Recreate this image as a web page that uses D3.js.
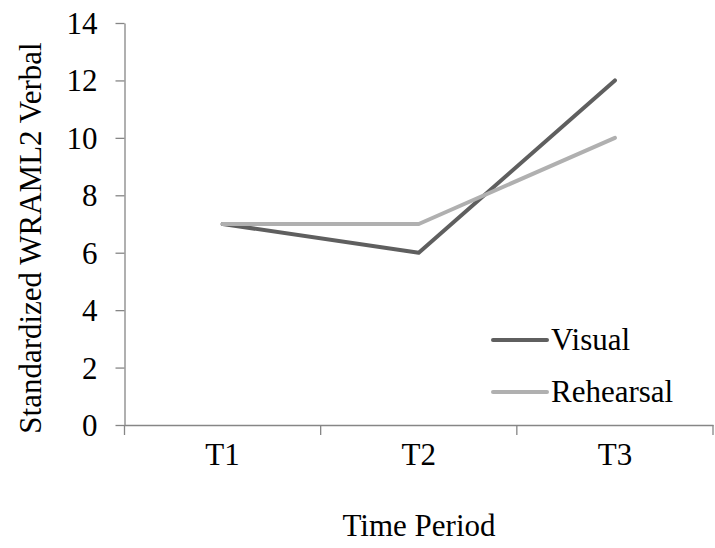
<!DOCTYPE html>
<html>
<head>
<meta charset="utf-8">
<script src="https://cdn.jsdelivr.net/npm/d3@7"></script>
</head>
<body style="margin:0">
<svg id="chart" width="715" height="548"></svg>
<script>
const categories = ["T1", "T2", "T3"];
const seriesNames = ["Visual", "Rehearsal"];
const visualValues = [7, 6, 12];
const rehearsalValues = [7, 7, 10];
const yTicks = [0, 2, 4, 6, 8, 10, 12, 14];

const colors = { Visual: "#5f5f5f", Rehearsal: "#b0b0b0" };
const series = [
  { name: seriesNames[0], values: visualValues },
  { name: seriesNames[1], values: rehearsalValues }
];

const svg = d3.select("#chart");
const plotLeft = 124.5, plotRight = 713, plotTop = 23, plotBottom = 425;
const axisColor = "#868686";

function styleText(sel) {
  return sel.attr("font-size", 31)
    .style("font-family", '"Liberation Serif"')
    .attr("fill", "#000");
}

const x = d3.scaleBand().domain(categories).range([plotLeft, plotRight]).paddingInner(0).paddingOuter(0);
const y = d3.scaleLinear().domain([0, 14]).range([plotBottom, plotTop]);

// Y axis
const yAxis = svg.append("g")
  .attr("transform", `translate(${plotLeft},0)`)
  .call(d3.axisLeft(y).tickValues(yTicks).tickSize(9).tickPadding(18).tickSizeOuter(0));
yAxis.attr("font-family", null).attr("font-size", null);
yAxis.select(".domain").attr("stroke", axisColor).attr("stroke-width", 1.3);
yAxis.selectAll(".tick line").attr("stroke", axisColor).attr("stroke-width", 1.3);
styleText(yAxis.selectAll(".tick text")).attr("dy", "0.34em");

// X axis labels
const xAxis = svg.append("g")
  .attr("transform", `translate(0,${plotBottom})`)
  .call(d3.axisBottom(x).tickSize(0).tickPadding(32).tickSizeOuter(0));
xAxis.attr("font-family", null).attr("font-size", null);
xAxis.select(".domain").attr("stroke", axisColor).attr("stroke-width", 1.3);
styleText(xAxis.selectAll(".tick text")).attr("dy", "0.25em");

// X boundary ticks
const boundaries = categories.map(c => x(c)).concat([x(categories[categories.length - 1]) + x.bandwidth()]);
svg.append("g").selectAll("line").data(boundaries).join("line")
  .attr("x1", d => d).attr("x2", d => d)
  .attr("y1", plotBottom).attr("y2", plotBottom + 10)
  .attr("stroke", axisColor).attr("stroke-width", 1.3);

// Lines
const line = d3.line()
  .x((d, i) => x(categories[i]) + x.bandwidth() / 2)
  .y(d => y(d));

svg.append("g").selectAll("path").data(series).join("path")
  .attr("d", d => line(d.values))
  .attr("fill", "none")
  .attr("stroke", d => colors[d.name])
  .attr("stroke-width", 4)
  .attr("stroke-linejoin", "round")
  .attr("stroke-linecap", "round");

// Legend
const legendY = [340, 392];
series.forEach((s, i) => {
  svg.append("line")
    .attr("x1", 493).attr("x2", 547)
    .attr("y1", legendY[i]).attr("y2", legendY[i])
    .attr("stroke", colors[s.name]).attr("stroke-width", 4)
    .attr("stroke-linecap", "round");
  styleText(svg.append("text")
    .attr("x", 551).attr("y", legendY[i] + 10))
    .text(s.name);
});

// Axis titles
styleText(svg.append("text")
  .attr("x", 419).attr("y", 536)
  .attr("text-anchor", "middle"))
  .text("Time Period");

styleText(svg.append("text")
  .attr("transform", "translate(41,238) rotate(-90)")
  .attr("text-anchor", "middle"))
  .text("Standardized WRAML2 Verbal");
</script>
</body>
</html>
